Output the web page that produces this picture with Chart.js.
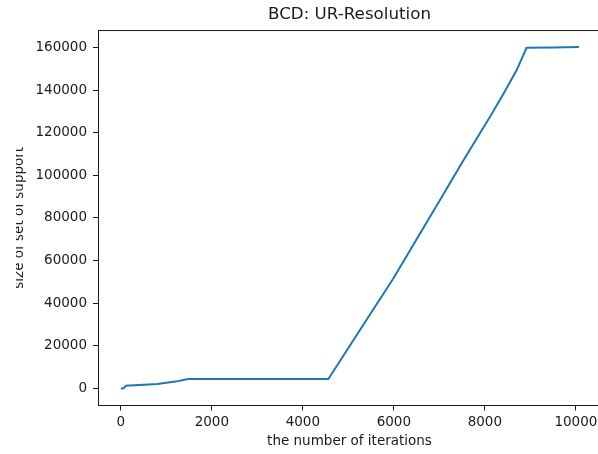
<!DOCTYPE html>
<html>
<head>
<meta charset="utf-8">
<script src="https://cdn.jsdelivr.net/npm/chart.js@4"></script>
<style>
  html, body { margin: 0; padding: 0; background: #fff; overflow: hidden; }
  #wrap { width: 598px; height: 454px; overflow: hidden; }
</style>
</head>
<body>
<div id="wrap"><canvas id="chart" width="602" height="454"></canvas></div>
<script>
// values
const iterations = [0, 60, 110, 400, 800, 1200, 1480, 4560, 5000, 5500, 5985, 6500, 7011, 7500, 8110, 8400, 8697, 8916, 9500, 10066]
const supportSize = [0, 100, 1300, 1600, 2100, 3200, 4400, 4400, 19000, 35500, 51500, 70000, 88300, 106000, 127400, 138000, 149300, 159900, 160000, 160200]

const xTicks = [0, 2000, 4000, 6000, 8000, 10000]
const yTicks = [0, 20000, 40000, 60000, 80000, 100000, 120000, 140000, 160000]

const titleText = 'BCD: UR-Resolution'
const xLabel = 'the number of iterations'
const yLabel = 'size of set of support'

const points = iterations.map((x, i) => ({ x: x, y: supportSize[i] }))

const font = 'DejaVu Sans'
const ink = '#1a1a1a'

// top spine + clipped left edge like the original image
const frame = {
    id: 'frame',
    afterDraw(chart) {
        const { ctx, chartArea } = chart
        ctx.save()
        ctx.strokeStyle = ink
        ctx.lineWidth = 1
        ctx.beginPath()
        ctx.moveTo(chartArea.left, chartArea.top + 0.5)
        ctx.lineTo(chartArea.right, chartArea.top + 0.5)
        ctx.stroke()
        ctx.fillStyle = '#fff'
        ctx.fillRect(0, 0, 16, chart.height)
        ctx.restore()
    }
}

const render = () => {
    new Chart(document.getElementById('chart'), {
        type: 'scatter',
        data: {
            datasets: [{
                data: points,
                showLine: true,
                borderColor: '#1f77b4',
                borderWidth: 2,
                pointRadius: 0,
                tension: 0
            }]
        },
        options: {
            responsive: false,
            animation: false,
            devicePixelRatio: 1,
            layout: { padding: { left: 0, right: 1, top: 0, bottom: 0 } },
            plugins: {
                legend: { display: false },
                tooltip: { enabled: false },
                title: {
                    display: true,
                    text: titleText,
                    fullSize: false,
                    color: ink,
                    font: { family: font, size: 16.7, weight: 'normal' },
                    padding: { top: 5, bottom: 5 }
                }
            },
            scales: {
                x: {
                    type: 'linear',
                    min: -502.5,
                    max: 10552.5,
                    afterBuildTicks: (s) => { s.ticks = xTicks.map(v => ({ value: v })) },
                    afterFit: (s) => { s.height = 48.5; s.paddingLeft = 0; s.paddingRight = 0 },
                    border: { display: true, color: ink, width: 1 },
                    grid: { display: true, drawOnChartArea: false, drawTicks: true, tickLength: 5, tickColor: ink, tickWidth: 1 },
                    ticks: { color: ink, font: { family: font, size: 13.5 }, padding: 4, maxRotation: 0, callback: (v) => String(v) },
                    title: { display: true, text: xLabel, color: ink, font: { family: font, size: 13.5 }, padding: { top: 0, bottom: 4.6 } }
                },
                y: {
                    type: 'linear',
                    min: -8010,
                    max: 168210,
                    afterBuildTicks: (s) => { s.ticks = yTicks.map(v => ({ value: v })) },
                    afterFit: (s) => { s.width = 98; s.paddingTop = 0; s.paddingBottom = 0 },
                    border: { display: true, color: ink, width: 1 },
                    grid: { display: true, drawOnChartArea: false, drawTicks: true, tickLength: 5, tickColor: ink, tickWidth: 1 },
                    ticks: { color: ink, font: { family: font, size: 13.5 }, padding: 6, callback: (v) => String(v) },
                    title: { display: true, text: yLabel, color: ink, font: { family: font, size: 13.5 }, padding: { top: 11.7, bottom: 0 } }
                }
            }
        },
        plugins: [frame]
    })
}

document.addEventListener('DOMContentLoaded', render)
</script>
</body>
</html>
